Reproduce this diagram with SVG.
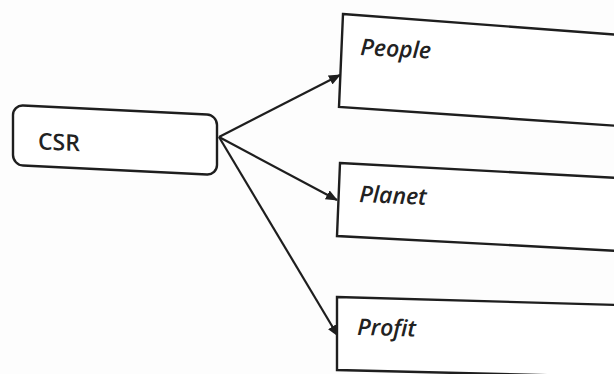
<svg xmlns="http://www.w3.org/2000/svg" width="614" height="374" viewBox="0 0 614 374">
<style>
.box{fill:#fff;stroke:#1e1e1e;stroke-width:2.4;stroke-linejoin:miter}
.lbl{font-family:"Open Sans","Liberation Sans",sans-serif;font-size:23px;font-weight:600;fill:#222}
.it{font-style:italic}
.conn{stroke:#1e1e1e;stroke-width:2.2;fill:none}
</style>
<defs>
<marker id="ah" viewBox="0 0 12 10" refX="11" refY="5" markerWidth="12" markerHeight="10" markerUnits="userSpaceOnUse" orient="auto">
<path d="M0,0 L12,5 L0,10 Z" fill="#1e1e1e"/>
</marker>
</defs>
<rect width="614" height="374" fill="#fdfdfd"/>
<g id="connectors">
<line class="conn" x1="219" y1="137" x2="340" y2="75" marker-end="url(#ah)"/>
<line class="conn" x1="219" y1="137" x2="337" y2="200" marker-end="url(#ah)"/>
<line class="conn" x1="219" y1="137" x2="338" y2="336" marker-end="url(#ah)"/>
</g>
<g id="csr" transform="translate(13,105) skewY(2.8)">
<rect class="box" x="0" y="0" width="204" height="60" rx="10"/>
<text class="lbl" x="25" y="43">CSR</text>
</g>
<g id="people">
<path class="box" d="M343,14 L620,35 L620,126 L339,107 Z"/>
<text class="lbl it" x="360" y="55" transform="rotate(3 360 55)">People</text>
</g>
<g id="planet">
<path class="box" d="M340,163 L620,178 L620,251 L337,236 Z"/>
<text class="lbl it" x="359" y="202" transform="rotate(2.5 359 202)">Planet</text>
</g>
<g id="profit">
<path class="box" d="M337,297 L620,305 L620,377 L337,370 Z"/>
<text class="lbl it" x="357" y="335" transform="rotate(1.5 357 335)">Profit</text>
</g>
</svg>
